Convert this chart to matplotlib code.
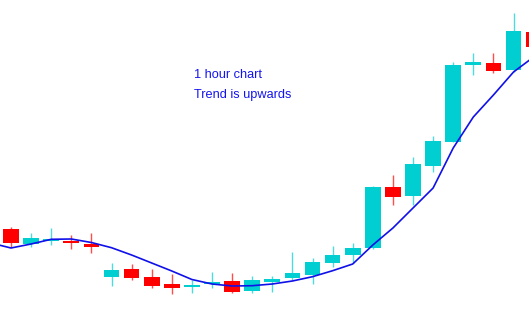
import matplotlib.pyplot as plt
from matplotlib.patches import Rectangle

# hourly candles (open, high, low, close), price units
opens  = [83.7, 68.7, 72.0, 72.3, 69.3, 36.3, 44.3, 36.3, 28.7, 26.3, 28.7, 32.0, 22.3, 30.7,
          34.7, 38.0, 49.7, 58.0, 64.7, 125.7, 117.0, 147.3, 171.3, 247.7, 249.7, 243.0, 281.3]
highs  = [86.3, 80.3, 85.0, 78.0, 80.3, 50.3, 49.0, 44.3, 38.7, 33.0, 41.3, 39.7, 37.3, 37.3,
          61.3, 55.3, 67.0, 69.7, 127.0, 138.0, 156.3, 177.0, 251.3, 259.7, 259.7, 300.3, 288.0]
lows   = [66.0, 66.3, 68.0, 64.0, 60.3, 27.0, 33.0, 24.7, 19.0, 20.0, 24.7, 19.7, 20.3, 21.3,
          33.0, 29.0, 46.3, 50.3, 64.0, 108.0, 108.0, 140.7, 171.0, 238.0, 240.3, 241.3, 263.0]
closes = [69.7, 75.0, 74.0, 69.7, 66.3, 43.0, 34.7, 27.3, 24.7, 28.0, 30.7, 21.3, 33.0, 33.7,
          40.0, 51.3, 58.0, 64.7, 126.3, 115.7, 149.0, 172.0, 248.0, 251.0, 242.0, 282.3, 265.7]

# moving average, starts one bar before the first visible candle
ma_start = -1
ma = [70.0, 65.0, 69.0, 73.7, 74.0, 70.5, 65.3, 58.0, 50.0, 42.0, 33.5, 29.0, 27.0, 27.3,
      29.0, 32.0, 36.3, 42.3, 49.0, 68.0, 85.0, 105.0, 125.0, 165.0, 196.0, 218.0, 241.0, 256.0]

up_color = '#00CED1'
down_color = '#FF0000'

fig = plt.figure(figsize=(5.29, 3.13), dpi=100)
ax = fig.add_axes([0, 0, 1, 1])

width = 0.78
for i, (o, h, l, c) in enumerate(zip(opens, highs, lows, closes)):
    color = up_color if c >= o else down_color
    ax.vlines(i, l, h, color=color, lw=1.0, alpha=0.7, zorder=1)
    bottom = min(o, c)
    height = max(abs(c - o), 1.0)
    ax.add_patch(Rectangle((i - width / 2, bottom), width, height,
                           facecolor=color, edgecolor='none', zorder=2))

ax.plot(range(ma_start, ma_start + len(ma)), ma, color='#1010E8', lw=1.2, zorder=3)

ax.set_xlim(-0.547, 25.77)
ax.set_ylim(0, 313)
ax.axis('off')

fig.text(194 / 529, (313 - 78.3) / 313, '1 hour chart', color='#1414F0',
         fontsize=9.2, family='Liberation Sans', va='baseline')
fig.text(194 / 529, (313 - 97.7) / 313, 'Trend is upwards', color='#1414F0',
         fontsize=9.2, family='Liberation Sans', va='baseline')

fig.savefig('out.png', dpi=100, facecolor='white')
